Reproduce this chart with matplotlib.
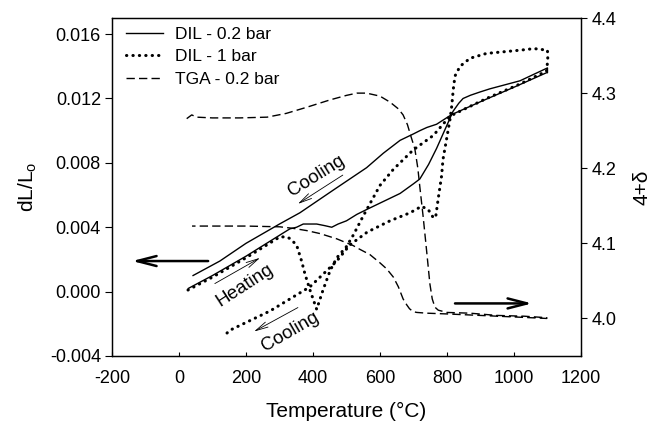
import matplotlib
matplotlib.use('Agg')
import matplotlib.pyplot as plt

plt.rcParams['font.family'] = ['Liberation Sans', 'DejaVu Sans']
plt.rcParams['axes.unicode_minus'] = False

## DIL - 0.2 bar (heating then cooling, closed at 1100 C)
dil02_T = [28, 100, 200, 300, 331, 351, 371, 391, 411, 435, 456, 475, 500, 531, 560, 620, 660,
           700, 719, 745, 769, 799, 818, 835, 848, 870, 898, 928, 1018, 1100,
           1100, 1097, 1000, 900, 814, 769, 740, 719, 700, 660, 610, 560, 460, 361, 300, 200, 122, 42]
dil02_v = [0.0002, 0.0010, 0.0022, 0.0035, 0.0039, 0.0040, 0.0042, 0.0042, 0.0042, 0.0041, 0.0040,
           0.0042, 0.0044, 0.0048, 0.0051, 0.0057, 0.0061, 0.0067, 0.0070, 0.0079, 0.0089, 0.0103,
           0.0112, 0.0117, 0.0120, 0.0122, 0.0124, 0.0126, 0.0131, 0.0139,
           0.0136, 0.0136, 0.0127, 0.0118, 0.0110, 0.0104, 0.0102, 0.0100, 0.0098, 0.0094, 0.0086,
           0.0077, 0.0063, 0.0049, 0.0042, 0.0030, 0.0019, 0.0010]

## DIL - 1 bar
dil1_T = [27, 100, 200, 301, 321, 331, 351, 366, 376, 391, 411, 430, 451, 471, 500, 520, 550, 600,
          640, 699, 759, 809, 848, 918, 1018, 1097, 1101, 1100,
          1060, 1018, 918, 869, 839, 824, 819, 814, 809, 799, 788, 784, 774, 766, 759, 744, 724,
          690, 630, 562, 510, 471, 391, 272, 152, 142]
dil1_v = [0.0001, 0.0009, 0.0021, 0.0034, 0.0034, 0.0033, 0.0029, 0.0019, 0.0011, 0.0001, -0.0011,
          0.0001, 0.0013, 0.0021, 0.0028, 0.0035, 0.0047, 0.0066, 0.0076, 0.0088, 0.0097, 0.0109,
          0.0113, 0.0120, 0.0129, 0.0137, 0.0144, 0.0150,
          0.0151, 0.0150, 0.0148, 0.0145, 0.0140, 0.0134, 0.0126, 0.0115, 0.0107, 0.0095, 0.0082,
          0.0072, 0.0058, 0.0046, 0.0046, 0.0051, 0.0053, 0.0049, 0.0044, 0.0037, 0.0029, 0.0019,
          0.0003, -0.0012, -0.0024, -0.0026]

## TGA - 0.2 bar (right axis, 4+delta)
tga_T = [23, 38, 53, 100, 180, 263, 320, 380, 451, 500, 531, 560, 600, 630, 655, 669, 682, 692,
         704, 713, 719, 729, 739, 749, 756, 764, 774, 800, 869, 950, 1030, 1098,
         1098, 1000, 900, 800, 740, 710, 699, 688, 680, 669, 655, 640, 620, 600, 570, 540, 520,
         471, 421, 381, 340, 301, 200, 122, 39]
tga_v = [4.266, 4.271, 4.268, 4.267, 4.267, 4.268, 4.273, 4.281, 4.291, 4.297, 4.300, 4.300, 4.296,
         4.288, 4.279, 4.271, 4.258, 4.243, 4.226, 4.200, 4.175, 4.135, 4.091, 4.046, 4.026, 4.015,
         4.011, 4.008, 4.007, 4.004, 4.003, 4.001,
         4.000, 4.002, 4.004, 4.006, 4.007, 4.008, 4.009, 4.013, 4.018, 4.026, 4.042, 4.055,
         4.066, 4.074, 4.085, 4.092, 4.097, 4.106, 4.113, 4.117, 4.120, 4.122, 4.123, 4.123, 4.123]

x_ticks = [-200, 0, 200, 400, 600, 800, 1000, 1200]
left_ticks = [-0.004, 0.000, 0.004, 0.008, 0.012, 0.016]
right_ticks = [4.0, 4.1, 4.2, 4.3, 4.4]
legend_labels = ['DIL - 0.2 bar', 'DIL - 1 bar', 'TGA - 0.2 bar']

fig = plt.figure(figsize=(6.53, 4.22), dpi=100)
ax = fig.add_axes([0.1715, 0.1564, 0.7182, 0.8009])
ax2 = ax.twinx()

l1, = ax.plot(dil02_T, dil02_v, color='black', lw=1.0)
l2, = ax.plot(dil1_T, dil1_v, color='black', lw=2.2, linestyle=(0, (0.1, 2.0)),
              dash_capstyle='round')
l3, = ax2.plot(tga_T, tga_v, color='black', lw=1.0, linestyle=(0, (6, 3)))

ax.set_xlim(-200, 1200)
ax.set_ylim(-0.004, 0.017)
ax2.set_ylim(3.95, 4.4)

ax.set_xticks(x_ticks)
ax.set_yticks(left_ticks)
ax.set_yticklabels(['%.3f' % t for t in left_ticks])
ax2.set_yticks(right_ticks)
ax2.set_yticklabels(['%.1f' % t for t in right_ticks])

ax.tick_params(axis='x', direction='in', length=3, pad=10, labelsize=13)
ax.tick_params(axis='y', direction='out', length=5, pad=3, labelsize=13)
ax2.tick_params(axis='y', direction='out', length=4, pad=4, labelsize=13)
for a in (ax, ax2):
    for s in a.spines.values():
        s.set_linewidth(0.9)

ax.set_xlabel('Temperature (\u00b0C)', fontsize=15)
ax.xaxis.set_label_coords(0.5, -0.135)
ax.set_ylabel('dL/L$_\\mathregular{o}$', fontsize=15)
ax.yaxis.set_label_coords(-0.156, 0.5)
ax2.set_ylabel('4+\u03b4', fontsize=15)
ax2.yaxis.set_label_coords(1.11, 0.5)

ax.legend([l1, l2, l3], legend_labels, loc='upper left', bbox_to_anchor=(0.03, 0.975),
          frameon=False, fontsize=12.5, borderpad=0, borderaxespad=0,
          handlelength=2.1, handletextpad=0.7, labelspacing=0.44)

## big arrows pointing at the axes
ax.annotate('', xy=(-140, 0.0019), xytext=(87, 0.0019),
            arrowprops=dict(arrowstyle='->,head_length=1.4,head_width=0.36', lw=1.8,
                            color='black', shrinkA=0, shrinkB=0, mutation_scale=10))
ax2.annotate('', xy=(1054, 4.02), xytext=(824, 4.02),
             arrowprops=dict(arrowstyle='->,head_length=1.4,head_width=0.36', lw=1.8,
                             color='black', shrinkA=0, shrinkB=0, mutation_scale=10))

## heating / cooling hints
small = dict(arrowstyle='->,head_length=0.9,head_width=0.2', lw=0.6, color='black',
             shrinkA=0, shrinkB=0, mutation_scale=10)
ax.annotate('', xy=(355, 0.00545), xytext=(489, 0.00724), arrowprops=small)
ax.text(410, 0.0072, 'Cooling', rotation=32, rotation_mode='anchor', ha='center', va='center',
        fontsize=13.5)
ax.annotate('', xy=(242, 0.0021), xytext=(107, 0.0005), arrowprops=small)
ax.text(196, 0.0004, 'Heating', rotation=33, rotation_mode='anchor', ha='center', va='center',
        fontsize=13.5)
ax.annotate('', xy=(224, -0.00248), xytext=(355, -0.00099), arrowprops=small)
ax.text(331, -0.0025, 'Cooling', rotation=30, rotation_mode='anchor', ha='center', va='center',
        fontsize=13.5)

fig.savefig('out.png', dpi=100)
